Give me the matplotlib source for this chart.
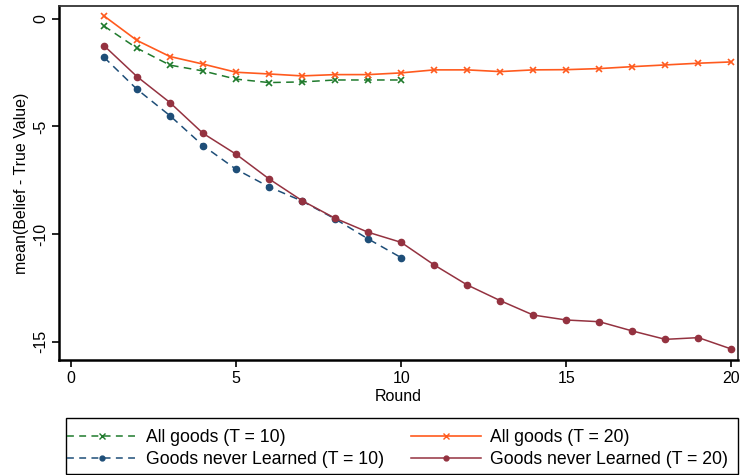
import matplotlib
matplotlib.use("Agg")
import matplotlib.pyplot as plt
from matplotlib.lines import Line2D
from matplotlib.patches import Rectangle

plt.rcParams['font.family'] = ['Liberation Sans', 'DejaVu Sans']

rounds_10 = list(range(1, 11))
rounds_20 = list(range(1, 21))

all_goods_t10 = [-0.33, -1.36, -2.15, -2.42, -2.80, -2.96, -2.93, -2.84, -2.84, -2.84]
all_goods_t20 = [0.14, -1.00, -1.75, -2.10, -2.48, -2.56, -2.65, -2.59, -2.59, -2.51,
                 -2.37, -2.37, -2.45, -2.37, -2.36, -2.31, -2.22, -2.14, -2.06, -2.00]
never_t10 = [-1.78, -3.27, -4.50, -5.89, -6.99, -7.81, -8.47, -9.30, -10.23, -11.10]
never_t20 = [-1.24, -2.68, -3.89, -5.32, -6.29, -7.44, -8.45, -9.27, -9.92, -10.39,
             -11.44, -12.37, -13.10, -13.77, -14.00, -14.08, -14.51, -14.90, -14.82, -15.35]

labels = ["All goods (T = 10)", "All goods (T = 20)",
          "Goods never Learned (T = 10)", "Goods never Learned (T = 20)"]

c_green = "#1f7a2c"
c_orange = "#ff5a1e"
c_blue = "#1e4e78"
c_maroon = "#943240"

W, H = 740, 475
fig = plt.figure(figsize=(W/100, H/100), dpi=100)
ax = fig.add_axes([59/W, 1-360/H, (738-59)/W, (360-6)/H])

dash = (0, (5, 3.5))
ax.plot(rounds_10, all_goods_t10, color=c_green, ls=dash, lw=1.1, marker='x', ms=5, mew=1.2)
ax.plot(rounds_20, all_goods_t20, color=c_orange, ls='-', lw=1.2, marker='x', ms=5, mew=1.2)
ax.plot(rounds_10, never_t10, color=c_blue, ls=dash, lw=1.1, marker='o', ms=4.5)
ax.plot(rounds_20, never_t20, color=c_maroon, ls='-', lw=1.1, marker='o', ms=4.5)

ax.set_xlim(-0.36, 20.2)
ax.set_ylim(-15.86, 0.6)
ax.set_xticks([0, 5, 10, 15, 20])
ax.set_yticks([0, -5, -10, -15])
ax.set_yticklabels(["0", "-5", "-10", "-15"], rotation=90, va='center')
ax.tick_params(axis='both', labelsize=11.5, direction='out', length=5, width=1.2, colors='black')
ax.tick_params(axis='y', pad=3)
ax.tick_params(axis='x', pad=3)
ax.set_xlabel("Round", fontsize=11.5, labelpad=2)
ax.set_ylabel("mean(Belief - True Value)", fontsize=11.5, labelpad=3)

for s in ['left', 'bottom']:
    ax.spines[s].set_linewidth(1.8)
    ax.spines[s].set_color('black')
for s in ['top', 'right']:
    ax.spines[s].set_linewidth(1.3)
    ax.spines[s].set_color('#333333')

ldash = (0, (4.5, 3.5))
h1 = Line2D([], [], color=c_green, ls=ldash, lw=1.1, marker='x', ms=4, mew=1)
h2 = Line2D([], [], color=c_orange, ls='-', lw=1.2, marker='x', ms=4, mew=1)
h3 = Line2D([], [], color=c_blue, ls=ldash, lw=1.1, marker='o', ms=3.5)
h4 = Line2D([], [], color=c_maroon, ls='-', lw=1.1, marker='o', ms=3.5)

# legend frame
fig.add_artist(Rectangle((66/W, 1-474/H), (738-66)/W, (474-418)/H,
                         transform=fig.transFigure, fill=False,
                         edgecolor='black', linewidth=1.0))

leg = fig.legend([h1, h3, h2, h4], [labels[0], labels[2], labels[1], labels[3]],
                 ncol=2, loc='upper left',
                 bbox_to_anchor=(66/W, 1-428/H),
                 fontsize=12.7, handlelength=4.0, handletextpad=0.5,
                 columnspacing=1.5, frameon=False, borderaxespad=0,
                 labelspacing=0.3, borderpad=0.05)

fig.savefig("out.png", dpi=100)
